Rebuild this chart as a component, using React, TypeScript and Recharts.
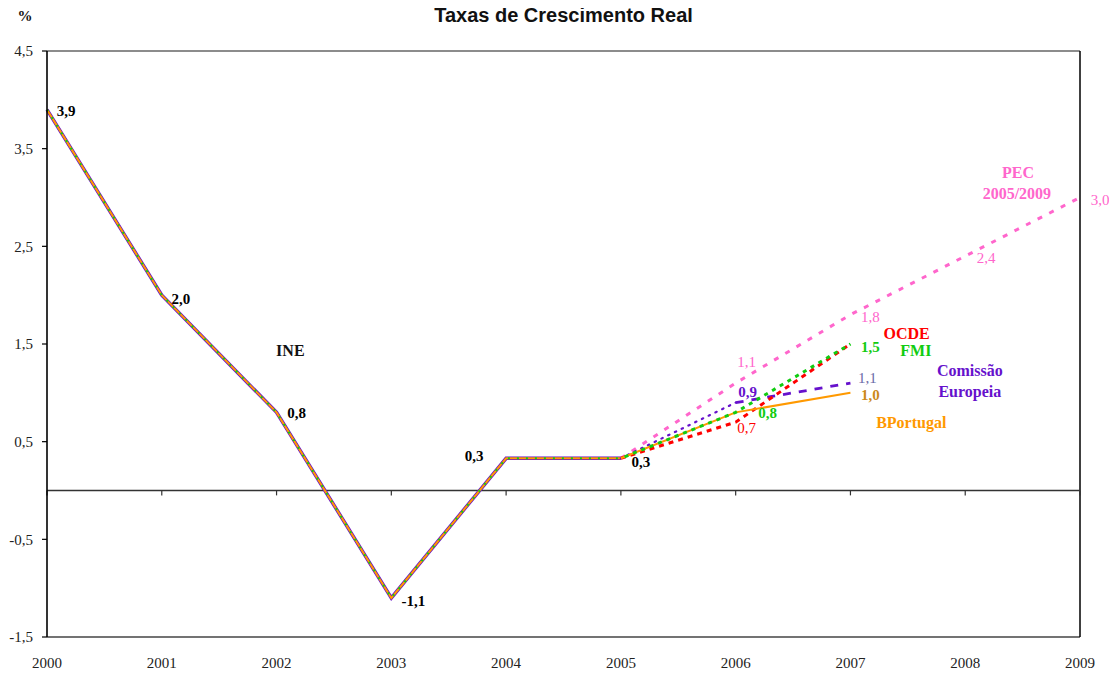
import React from "react";
import { LineChart, Line, XAxis, YAxis, ReferenceLine, ReferenceDot, LabelList } from "recharts";

const years = [2000, 2001, 2002, 2003, 2004, 2005, 2006, 2007, 2008, 2009];
const yTicks = [-1.5, -0.5, 0.5, 1.5, 2.5, 3.5, 4.5];

// INE history 2000-2005
const ine = [3.9, 2.0, 0.8, -1.1, 0.33, 0.33];
// Forecasts from 2006 on (each starts at last INE value in 2005)
const pec = [1.1, 1.8, 2.4, 3.0]; // 2006-2009
const ocde = [0.7, 1.5]; // 2006-2007
const fmi = [0.8, 1.5];
const comissao = [0.9, 1.1];
const bportugal = [0.8, 1.0];

const annotations = [
  { text: "INE", x: 2002.12, y: 1.43, color: "#111111" },
  { text: "PEC", x: 2008.46, y: 3.26, color: "#FF66CC" },
  { text: "2005/2009", x: 2008.45, y: 3.04, color: "#FF66CC" },
  { text: "OCDE", x: 2007.49, y: 1.61, color: "#FF0000" },
  { text: "FMI", x: 2007.57, y: 1.43, color: "#11CC11" },
  { text: "Comissão", x: 2008.04, y: 1.23, color: "#6611CC" },
  { text: "Europeia", x: 2008.04, y: 1.01, color: "#6611CC" },
  { text: "BPortugal", x: 2007.53, y: 0.7, color: "#FF9900" },
];

const C = {
  pink: "#FF66CC",
  red: "#FF0000",
  green: "#11CC11",
  purple: "#6611CC",
  orange: "#FF9900",
};

const last = ine[ine.length - 1];
const rows = years.map((yr, i) => {
  const f = i - 5;
  const pick = (arr: number[]) => (f === 0 ? last : f > 0 && f <= arr.length ? arr[f - 1] : null);
  return {
    year: yr,
    ine: i <= 5 ? ine[i] : null,
    pec: pick(pec),
    ocde: pick(ocde),
    fmi: pick(fmi),
    ceDot: f === 0 ? last : f === 1 ? comissao[0] : null,
    ceDash: f === 1 ? comissao[0] : f === 2 ? comissao[1] : null,
    bp: pick(bportugal),
  };
});

const fmt = (v: number) => v.toFixed(1).replace(".", ",");
const SERIF = "'Liberation Serif', 'Times New Roman', serif";

type Cfg = { dx: number; dy: number; color?: string; bold?: boolean };

const makeLabel = (map: Record<number, Cfg>, color: string, bold: boolean) => (props: any) => {
  const idx = props.index;
  const cfg = map[idx];
  if (!cfg || props.value == null) return null;
  const x = props.x ?? props.viewBox?.x;
  const y = props.y ?? props.viewBox?.y;
  if (x == null || y == null) return null;
  return (
    <text
      x={x + cfg.dx}
      y={y + cfg.dy}
      textAnchor="middle"
      dominantBaseline="central"
      fill={cfg.color ?? color}
      fontFamily={SERIF}
      fontSize={15}
      fontWeight={(cfg.bold ?? bold) ? 700 : 400}
    >
      {fmt(Number(props.value))}
    </text>
  );
};

const histMap: Record<number, Cfg> = {
  0: { dx: 19, dy: 1 },
  1: { dx: 19, dy: 4 },
  2: { dx: 20, dy: 1 },
  3: { dx: 22, dy: 3 },
  4: { dx: -32, dy: -2 },
  5: { dx: 20, dy: 4 },
};
const pecMap: Record<number, Cfg> = {
  6: { dx: 11, dy: -21 },
  7: { dx: 20, dy: 2 },
  8: { dx: 21, dy: 2 },
  9: { dx: 20, dy: 2 },
};
const ceMap: Record<number, Cfg> = {
  6: { dx: 12, dy: -11, bold: true },
  7: { dx: 17, dy: -5, color: "#6B6BA8" },
};
const fmiMap: Record<number, Cfg> = {
  6: { dx: 32, dy: 1, bold: true },
  7: { dx: 20, dy: 3, bold: true },
};
const ocdeMap: Record<number, Cfg> = {
  6: { dx: 11, dy: 6 },
};
const bpMap: Record<number, Cfg> = {
  7: { dx: 20, dy: 2, color: "#CC8A1A", bold: true },
};

const Annot = (text: string, color: string) => (props: any) => {
  const vb = props.viewBox || {};
  const cx = (vb.x ?? 0) + (vb.width ?? 0) / 2;
  const cy = (vb.y ?? 0) + (vb.height ?? 0) / 2;
  return (
    <text
      x={cx}
      y={cy}
      textAnchor="middle"
      dominantBaseline="central"
      fill={color}
      fontFamily={SERIF}
      fontSize={16}
      fontWeight={700}
    >
      {text}
    </text>
  );
};

export default function App() {
  return (
    <div style={{ position: "relative", width: 1109, height: 668 }}>
      <div
        style={{
          position: "absolute",
          left: 0,
          width: 1111,
          top: -3,
          height: 20,
          lineHeight: "20px",
          textAlign: "center",
          fontFamily: "'Liberation Sans', Arial, sans-serif",
          fontWeight: 700,
          fontSize: 20,
          color: "#111",
        }}
      >
        Taxas de Crescimento Real
      </div>
      <div
        style={{
          position: "absolute",
          left: 7,
          width: 20,
          top: -2,
          height: 20,
          lineHeight: "20px",
          textAlign: "center",
          fontFamily: SERIF,
          fontWeight: 700,
          fontSize: 15,
          color: "#111",
        }}
      >
        %
      </div>
      <LineChart width={1109} height={668} data={rows} margin={{ top: 43, right: 37, left: 0, bottom: 0 }}>
        <XAxis
          dataKey="year"
          type="number"
          domain={[2000, 2009]}
          ticks={years}
          axisLine={false}
          tickLine={false}
          tickSize={6}
          tickMargin={14}
          height={39}
          interval={0}
          tick={{ fontSize: 15, fill: "#222", fontFamily: SERIF }}
        />
        <YAxis
          type="number"
          domain={[-1.5, 4.5]}
          ticks={yTicks}
          width={39}
          interval={0}
          tickFormatter={(v: number) => fmt(v)}
          axisLine={{ stroke: "#000", strokeWidth: 1.6 }}
          tickLine={{ stroke: "#000", strokeWidth: 1.2 }}
          tickSize={5}
          tickMargin={9}
          tick={{ fontSize: 15, fill: "#222", fontFamily: SERIF }}
        />
        <ReferenceLine y={4.5} stroke="#666" strokeWidth={1.3} />
        <ReferenceLine y={-1.5} stroke="#444" strokeWidth={1.3} />
        <ReferenceLine x={2009} stroke="#000" strokeWidth={1.5} />
        <ReferenceLine y={0} stroke="#333" strokeWidth={1.3} />
        {years.map((yr) => (
          <ReferenceLine
            key={"t" + yr}
            segment={[
              { x: yr, y: 0 },
              { x: yr, y: -0.05 },
            ]}
            stroke="#333"
            strokeWidth={1.2}
          />
        ))}

        {/* INE history drawn by several overlapping series */}
        <Line dataKey="ine" stroke={C.purple} strokeWidth={3.5} dot={false} activeDot={false} isAnimationActive={false} />
        <Line dataKey="ine" stroke={C.orange} strokeWidth={2} dot={false} activeDot={false} isAnimationActive={false} />
        <Line
          dataKey="ine"
          stroke={C.green}
          strokeWidth={2}
          strokeDasharray="2 7"
          dot={false}
          activeDot={false}
          isAnimationActive={false}
        >
          <LabelList dataKey="ine" content={makeLabel(histMap, "#000", true)} />
        </Line>

        <Line
          dataKey="pec"
          stroke={C.pink}
          strokeWidth={3}
          strokeDasharray="5 8"
          dot={false}
          activeDot={false}
          isAnimationActive={false}
        >
          <LabelList dataKey="pec" content={makeLabel(pecMap, C.pink, false)} />
        </Line>
        <Line
          dataKey="ceDot"
          stroke={C.purple}
          strokeWidth={2.2}
          strokeDasharray="1.5 6"
          strokeLinecap="round"
          dot={false}
          activeDot={false}
          isAnimationActive={false}
        />
        <Line
          dataKey="ceDash"
          stroke={C.purple}
          strokeWidth={2.8}
          strokeDasharray="8 8"
          dot={false}
          activeDot={false}
          isAnimationActive={false}
        >
          <LabelList dataKey="ceDash" content={makeLabel(ceMap, C.purple, false)} />
        </Line>
        <Line
          dataKey="ocde"
          stroke={C.red}
          strokeWidth={3}
          strokeDasharray="5 5"
          dot={false}
          activeDot={false}
          isAnimationActive={false}
        >
          <LabelList dataKey="ocde" content={makeLabel(ocdeMap, C.red, false)} />
        </Line>
        <Line
          dataKey="bp"
          stroke={C.orange}
          strokeWidth={2}
          dot={false}
          activeDot={false}
          isAnimationActive={false}
        >
          <LabelList dataKey="bp" content={makeLabel(bpMap, C.orange, false)} />
        </Line>
        <Line
          dataKey="fmi"
          stroke={C.green}
          strokeWidth={3}
          strokeDasharray="4 5"
          strokeDashoffset={5}
          dot={false}
          activeDot={false}
          isAnimationActive={false}
        >
          <LabelList dataKey="fmi" content={makeLabel(fmiMap, C.green, false)} />
        </Line>

        {annotations.map((a) => (
          <ReferenceDot
            key={a.text}
            x={a.x}
            y={a.y}
            r={0}
            fill="none"
            stroke="none"
            label={Annot(a.text, a.color)}
          />
        ))}
      </LineChart>
    </div>
  );
}
